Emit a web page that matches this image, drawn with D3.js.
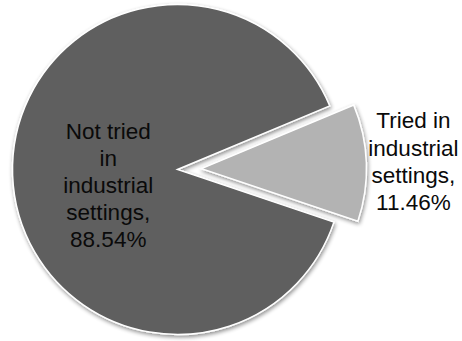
<!DOCTYPE html>
<html>
<head>
<meta charset="utf-8">
<script src="https://cdn.jsdelivr.net/npm/d3@7"></script>
<style>
  html, body { margin: 0; padding: 0; background: #fff; }
  svg { display: block; }
  text { font-family: Arial, "Liberation Sans", sans-serif; fill: #0a0a0a; }
</style>
</head>
<body>
<svg id="chart" width="462" height="341"></svg>
<script>
// Survey share: has the method been tried in industrial settings?
const categories = ["Not tried in industrial settings", "Tried in industrial settings"];
const labelLines = [
  ["Not tried", "in", "industrial", "settings,", "88.54%"],
  ["Tried in", "industrial", "settings,", "11.46%"]
];
const values = [88.54, 11.46];
const colors = ["#5f5f5f", "#b3b3b3"];
const exploded = [false, true];

const width = 462, height = 341;
const cx = 177.5, cy = 169.5, radius = 165;
const explodeDist = 24;
const startAngle = 108.6 * Math.PI / 180;

const svg = d3.select("#chart");

// soft drop shadow under the slices
const defs = svg.append("defs");
const f = defs.append("filter").attr("id", "shadow")
  .attr("x", "-10%").attr("y", "-10%").attr("width", "120%").attr("height", "120%");
f.append("feGaussianBlur").attr("in", "SourceAlpha").attr("stdDeviation", 2).attr("result", "blur");
f.append("feOffset").attr("in", "blur").attr("dx", 1).attr("dy", 2).attr("result", "off");
f.append("feComponentTransfer").attr("in", "off").attr("result", "shade")
  .append("feFuncA").attr("type", "linear").attr("slope", 0.45);
const merge = f.append("feMerge");
merge.append("feMergeNode").attr("in", "shade");
merge.append("feMergeNode").attr("in", "SourceGraphic");

const pie = d3.pie().sort(null).value(d => d)
  .startAngle(startAngle).endAngle(startAngle + 2 * Math.PI);
const arcs = pie(values);
const arc = d3.arc().innerRadius(0).outerRadius(radius);

function offset(d, i) {
  if (!exploded[i]) return [0, 0];
  const a = (d.startAngle + d.endAngle) / 2;
  return [explodeDist * Math.sin(a), -explodeDist * Math.cos(a)];
}

const g = svg.append("g").attr("transform", `translate(${cx},${cy})`);

g.selectAll("path.slice")
  .data(arcs)
  .join("path")
  .attr("class", "slice")
  .attr("d", arc)
  .attr("transform", (d, i) => { const o = offset(d, i); return `translate(${o[0]},${o[1]})`; })
  .attr("fill", (d, i) => colors[i])
  .attr("stroke", "#ffffff")
  .attr("stroke-width", 1.5)
  .attr("stroke-linejoin", "miter")
  .attr("filter", "url(#shadow)");

// Data labels: the large slice is labelled inside, the small one outside its rim
const fontSize = 22.5, lineStep = 27.2, capHalf = 8;
const labelRadius = [radius * 0.42, radius * 1.285];
const labelShift = [[0, 13], [0, 0]];

arcs.forEach((d, i) => {
  const a = (d.startAngle + d.endAngle) / 2;
  const o = offset(d, i);
  const lx = o[0] + labelRadius[i] * Math.sin(a) + labelShift[i][0];
  const ly = o[1] - labelRadius[i] * Math.cos(a) + labelShift[i][1];
  const lines = labelLines[i];
  const first = ly - (lines.length - 1) / 2 * lineStep + capHalf;
  const t = g.append("text")
    .attr("text-anchor", "middle")
    .attr("font-size", fontSize);
  lines.forEach((s, k) => {
    t.append("tspan").attr("x", lx).attr("y", first + k * lineStep).text(s);
  });
});
</script>
</body>
</html>
